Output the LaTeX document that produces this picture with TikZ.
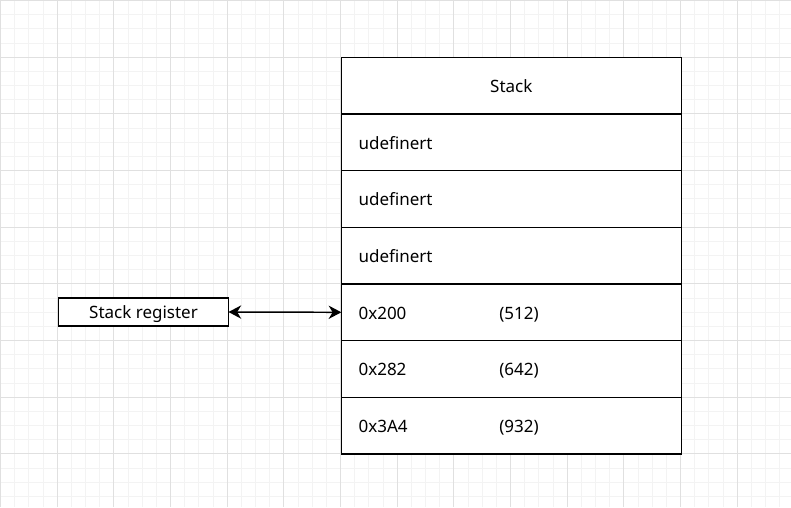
\documentclass[tikz,border=0pt]{standalone}
\usepackage{fontspec}
\setmainfont{Noto Sans}
\usetikzlibrary{arrows.meta}
\definecolor{gridminor}{HTML}{F3F3F3}
\definecolor{gridmajor}{HTML}{E0E0E0}
\newcommand{\lblfont}{\fontsize{12.75pt}{15pt}\selectfont}
\begin{document}
\begin{tikzpicture}[x=0.75pt,y=-0.75pt,
  cell/.style={draw=black, line width=1.1pt, minimum width=255pt, minimum height=42.5pt, inner sep=0pt, outer sep=0pt, anchor=north west, fill=white},
  regbox/.style={draw=black, line width=1.1pt, minimum width=127.5pt, minimum height=21.25pt, inner sep=0pt, outer sep=0pt, fill=white},
  lbl/.style={anchor=base west, inner sep=0pt, font=\lblfont},
  clbl/.style={anchor=base, inner sep=0pt, font=\lblfont},
  link/.style={line width=1.1pt, {Stealth[length=9.5pt,width=10pt,inset=3pt]}-{Stealth[length=9.5pt,width=10pt,inset=3pt]}}
]
\useasboundingbox (0,0) rectangle (791,507);
\fill[white] (0,0) rectangle (791,507);
% grid
\foreach \i in {0,...,56}{
  \pgfmathsetmacro{\gx}{\i*14.1667+0.5}
  \draw[gridminor, line width=0.75pt] (\gx,0) -- (\gx,507);
}
\foreach \i in {0,...,36}{
  \pgfmathsetmacro{\gy}{\i*14.1667+0.5}
  \draw[gridminor, line width=0.75pt] (0,\gy) -- (791,\gy);
}
\foreach \i in {0,...,14}{
  \pgfmathsetmacro{\gx}{\i*56.6667+0.5}
  \draw[gridmajor, line width=0.75pt] (\gx,0) -- (\gx,507);
}
\foreach \i in {0,...,9}{
  \pgfmathsetmacro{\gy}{\i*56.6667+0.5}
  \draw[gridmajor, line width=0.75pt] (0,\gy) -- (791,\gy);
}
% stack cells
\node[cell] (c0) at (341.3,57.3) {};
\node[cell] (c1) at (c0.south west) {};
\node[cell] (c2) at (c1.south west) {};
\node[cell] (c3) at (c2.south west) {};
\node[cell] (c4) at (c3.south west) {};
\node[cell] (c5) at (c4.south west) {};
\node[cell] (c6) at (c5.south west) {};
\node[clbl] (t0) at ([yshift=-5.1pt]c0.center) {Stack};
\node[lbl] (t1) at ([xshift=12.75pt,yshift=-5.1pt]c1.west) {udefinert};
\node[lbl] (t2) at ([xshift=12.75pt,yshift=-5.1pt]c2.west) {udefinert};
\node[lbl] (t3) at ([xshift=12.75pt,yshift=-5.1pt]c3.west) {udefinert};
\node[lbl] (t4) at ([xshift=12.75pt,yshift=-5.1pt]c4.west) {0x200};
\node[lbl] (t5) at ([xshift=12.75pt,yshift=-5.1pt]c5.west) {0x282};
\node[lbl] (t6) at ([xshift=12.75pt,yshift=-5.1pt]c6.west) {0x3A4};
\node[lbl] (d4) at ([xshift=118.3pt,yshift=-5.1pt]c4.west) {(512)};
\node[lbl] (d5) at ([xshift=118.3pt,yshift=-5.1pt]c5.west) {(642)};
\node[lbl] (d6) at ([xshift=118.3pt,yshift=-5.1pt]c6.west) {(932)};
% register
\node[regbox] (sr) at (143.5,312) {};
\node[clbl] (srt) at ([yshift=-5.1pt]sr.center) {Stack register};
\draw[link] (sr.east) -- (c4.west);
\end{tikzpicture}
\end{document}
